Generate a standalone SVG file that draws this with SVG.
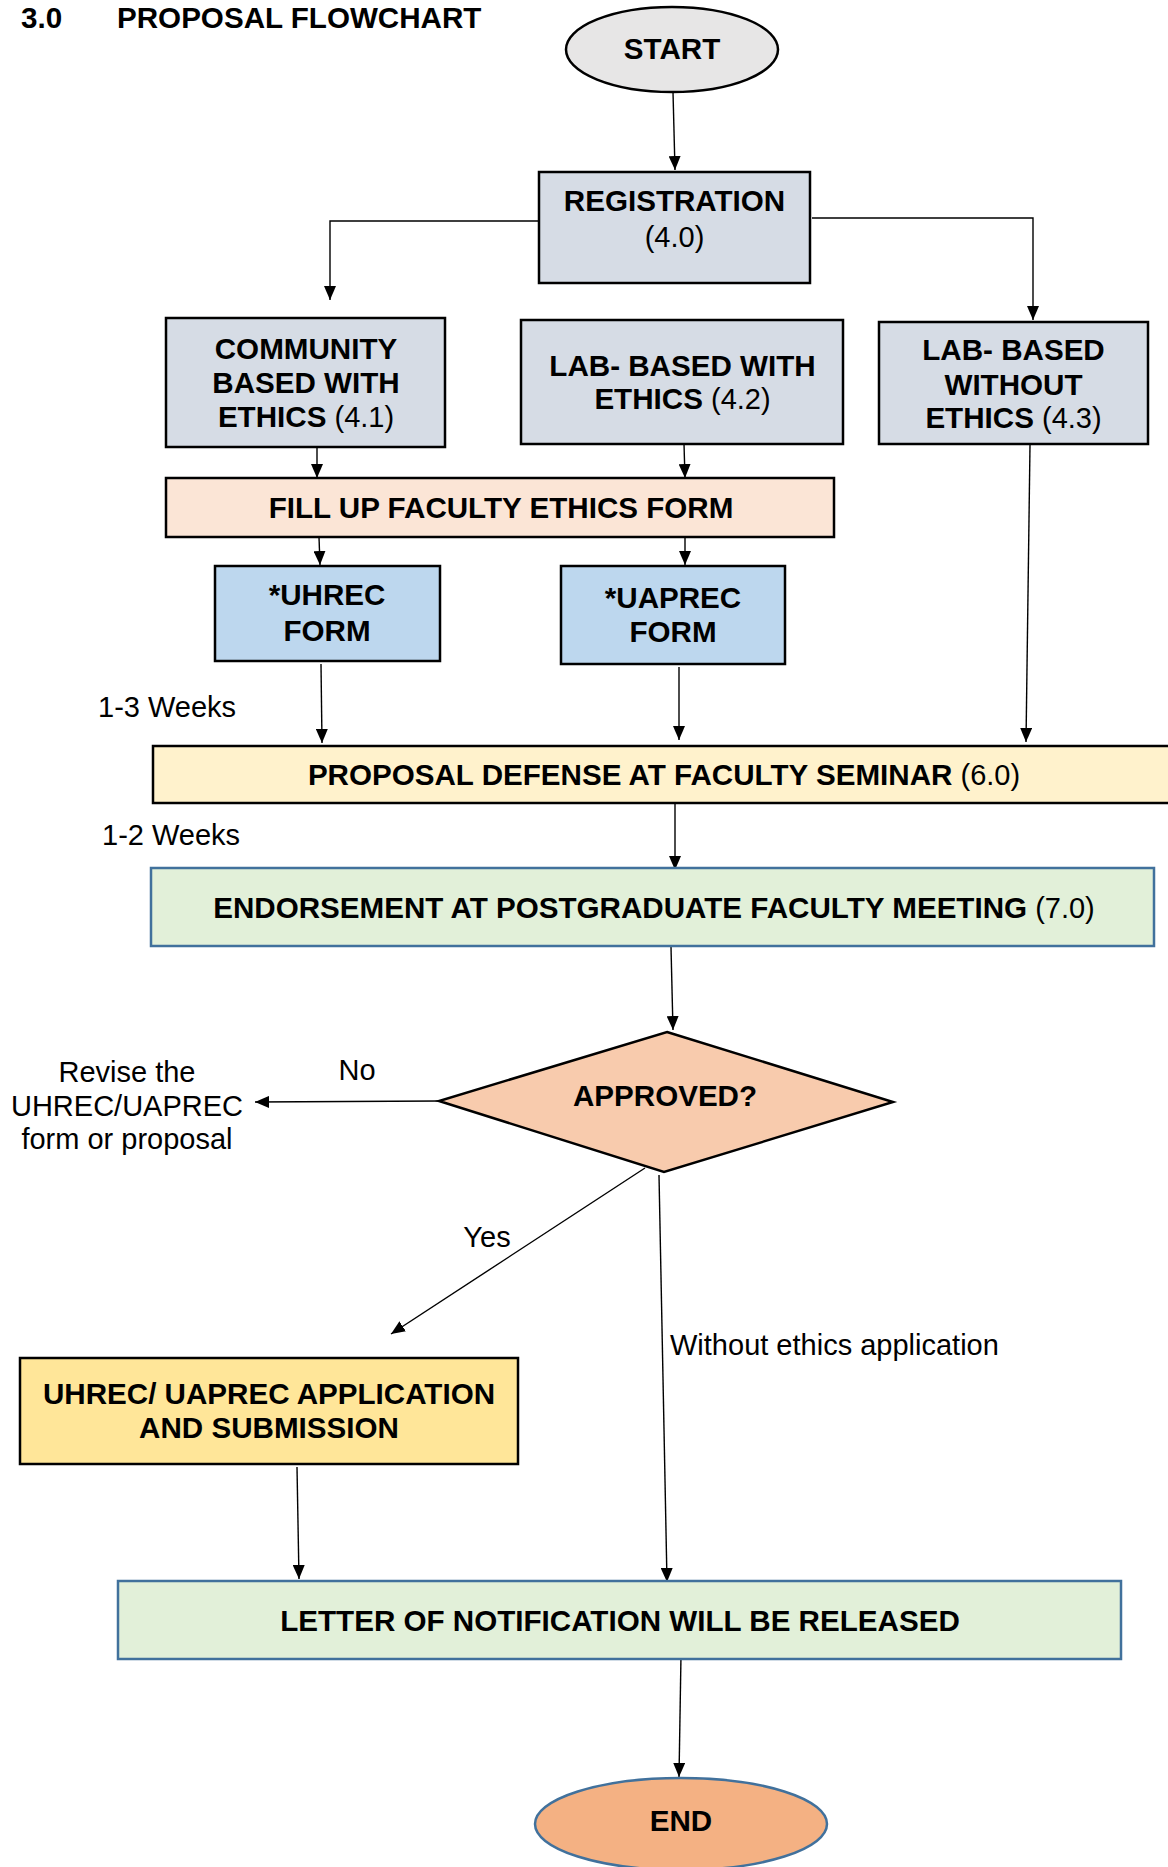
<svg xmlns="http://www.w3.org/2000/svg" width="1168" height="1867" viewBox="0 0 1168 1867">
<style>
text{font-family:"Liberation Sans",Arial,sans-serif;font-size:29px;fill:#000}
.b{font-weight:bold;font-size:29.6px}
.n{font-weight:normal;font-size:29px}
.m{text-anchor:middle}
.bx{stroke:#000;stroke-width:2.5}
.bl{stroke:#41719c;stroke-width:2.5}
.c{fill:none;stroke:#000;stroke-width:1.4}
</style>
<defs>
<marker id="ah" markerUnits="userSpaceOnUse" markerWidth="14" markerHeight="12" refX="14" refY="6" orient="auto">
<path d="M0,0 L14,6 L0,12 z" fill="#000"/>
</marker>
</defs>
<rect width="1168" height="1867" fill="#fff"/>
<g id="title">
<text class="b" x="21" y="28">3.0</text>
<text class="b" x="117" y="28">PROPOSAL FLOWCHART</text>
</g>
<g id="connectors">
<path class="c" d="M673,92 L675,170" marker-end="url(#ah)"/>
<path class="c" d="M539,221 L330,221 L330,300" marker-end="url(#ah)"/>
<path class="c" d="M812,218 L1033,218 L1033,320" marker-end="url(#ah)"/>
<path class="c" d="M317,447 L317,478" marker-end="url(#ah)"/>
<path class="c" d="M684,444 L685,478" marker-end="url(#ah)"/>
<path class="c" d="M319,537 L320,565" marker-end="url(#ah)"/>
<path class="c" d="M685,537 L685,565" marker-end="url(#ah)"/>
<path class="c" d="M321,664 L322,743" marker-end="url(#ah)"/>
<path class="c" d="M679,667 L679,740" marker-end="url(#ah)"/>
<path class="c" d="M1030,445 L1026,742" marker-end="url(#ah)"/>
<path class="c" d="M675,803 L675,870" marker-end="url(#ah)"/>
<path class="c" d="M671,947 L673,1030" marker-end="url(#ah)"/>
<path class="c" d="M439,1101 L255,1102" marker-end="url(#ah)"/>
<path class="c" d="M645,1168 L391,1334" marker-end="url(#ah)"/>
<path class="c" d="M659,1175 L667,1582" marker-end="url(#ah)"/>
<path class="c" d="M297,1467 L299,1579" marker-end="url(#ah)"/>
<path class="c" d="M681,1655 L679,1777" marker-end="url(#ah)"/>
</g>
<g id="start">
<ellipse class="bx" cx="672" cy="49.5" rx="106" ry="42.5" fill="#e7e6e6" stroke-width="2"/>
<text class="b m" x="672" y="59">START</text>
</g>
<g id="registration">
<rect class="bx" x="539" y="172" width="271" height="111" fill="#d6dce5"/>
<text class="b m" x="674.5" y="211">REGISTRATION</text>
<text class="n m" x="674.5" y="247">(4.0)</text>
</g>
<g id="community">
<rect class="bx" x="166" y="318" width="279" height="129" fill="#d6dce5"/>
<text class="b m" x="306" y="359">COMMUNITY</text>
<text class="b m" x="306" y="393">BASED WITH</text>
<text class="m" x="306" y="427"><tspan class="b">ETHICS</tspan> <tspan class="n">(4.1)</tspan></text>
</g>
<g id="labwith">
<rect class="bx" x="521" y="320" width="322" height="124" fill="#d6dce5"/>
<text class="b m" x="682.5" y="376">LAB- BASED WITH</text>
<text class="m" x="682.5" y="409"><tspan class="b">ETHICS</tspan> <tspan class="n">(4.2)</tspan></text>
</g>
<g id="labwithout">
<rect class="bx" x="879" y="322" width="269" height="122" fill="#d6dce5"/>
<text class="b m" x="1013.5" y="360">LAB- BASED</text>
<text class="b m" x="1013.5" y="395">WITHOUT</text>
<text class="m" x="1013.5" y="428"><tspan class="b">ETHICS</tspan> <tspan class="n">(4.3)</tspan></text>
</g>
<g id="fillup">
<rect class="bx" x="166" y="478" width="668" height="59" fill="#fbe5d6"/>
<text class="b m" x="501" y="518">FILL UP FACULTY ETHICS FORM</text>
</g>
<g id="uhrec">
<rect class="bx" x="215" y="566" width="225" height="95" fill="#bdd7ee"/>
<text class="b m" x="327" y="605">*UHREC</text>
<text class="b m" x="327" y="641">FORM</text>
</g>
<g id="uaprec">
<rect class="bx" x="561" y="566" width="224" height="98" fill="#bdd7ee"/>
<text class="b m" x="673" y="608">*UAPREC</text>
<text class="b m" x="673" y="642">FORM</text>
</g>
<g id="lbl-weeks">
<text class="n" x="98" y="717">1-3 Weeks</text>
<text class="n" x="102" y="845">1-2 Weeks</text>
</g>
<g id="proposal">
<rect class="bx" x="153" y="746" width="1030" height="57" fill="#fff2cc"/>
<text class="m" x="664" y="785"><tspan class="b">PROPOSAL DEFENSE AT FACULTY SEMINAR</tspan> <tspan class="n">(6.0)</tspan></text>
</g>
<g id="endorsement">
<rect class="bl" x="151" y="868" width="1003" height="78" fill="#e2f0d9"/>
<text class="m" x="654" y="918"><tspan class="b">ENDORSEMENT AT POSTGRADUATE FACULTY MEETING</tspan> <tspan class="n">(7.0)</tspan></text>
</g>
<g id="approved">
<polygon class="bx" points="667,1032 893,1102 664,1172 439,1101" fill="#f8cbad"/>
<text class="b m" x="665" y="1106">APPROVED?</text>
</g>
<g id="labels">
<text class="n m" x="357" y="1080">No</text>
<text class="n m" x="127" y="1082">Revise the</text>
<text class="n m" x="127" y="1116">UHREC/UAPREC</text>
<text class="n m" x="127" y="1149">form or proposal</text>
<text class="n m" x="487" y="1247">Yes</text>
<text class="n" x="670" y="1355">Without ethics application</text>
</g>
<g id="application">
<rect class="bx" x="20" y="1358" width="498" height="106" fill="#ffe699"/>
<text class="b m" x="269" y="1404">UHREC/ UAPREC APPLICATION</text>
<text class="b m" x="269" y="1438">AND SUBMISSION</text>
</g>
<g id="letter">
<rect class="bl" x="118" y="1581" width="1003" height="78" fill="#e2f0d9"/>
<text class="b m" x="620" y="1631">LETTER OF NOTIFICATION WILL BE RELEASED</text>
</g>
<g id="end">
<ellipse class="bl" cx="681" cy="1824" rx="146" ry="46" fill="#f4b183"/>
<text class="b m" x="681" y="1831">END</text>
</g>
</svg>
